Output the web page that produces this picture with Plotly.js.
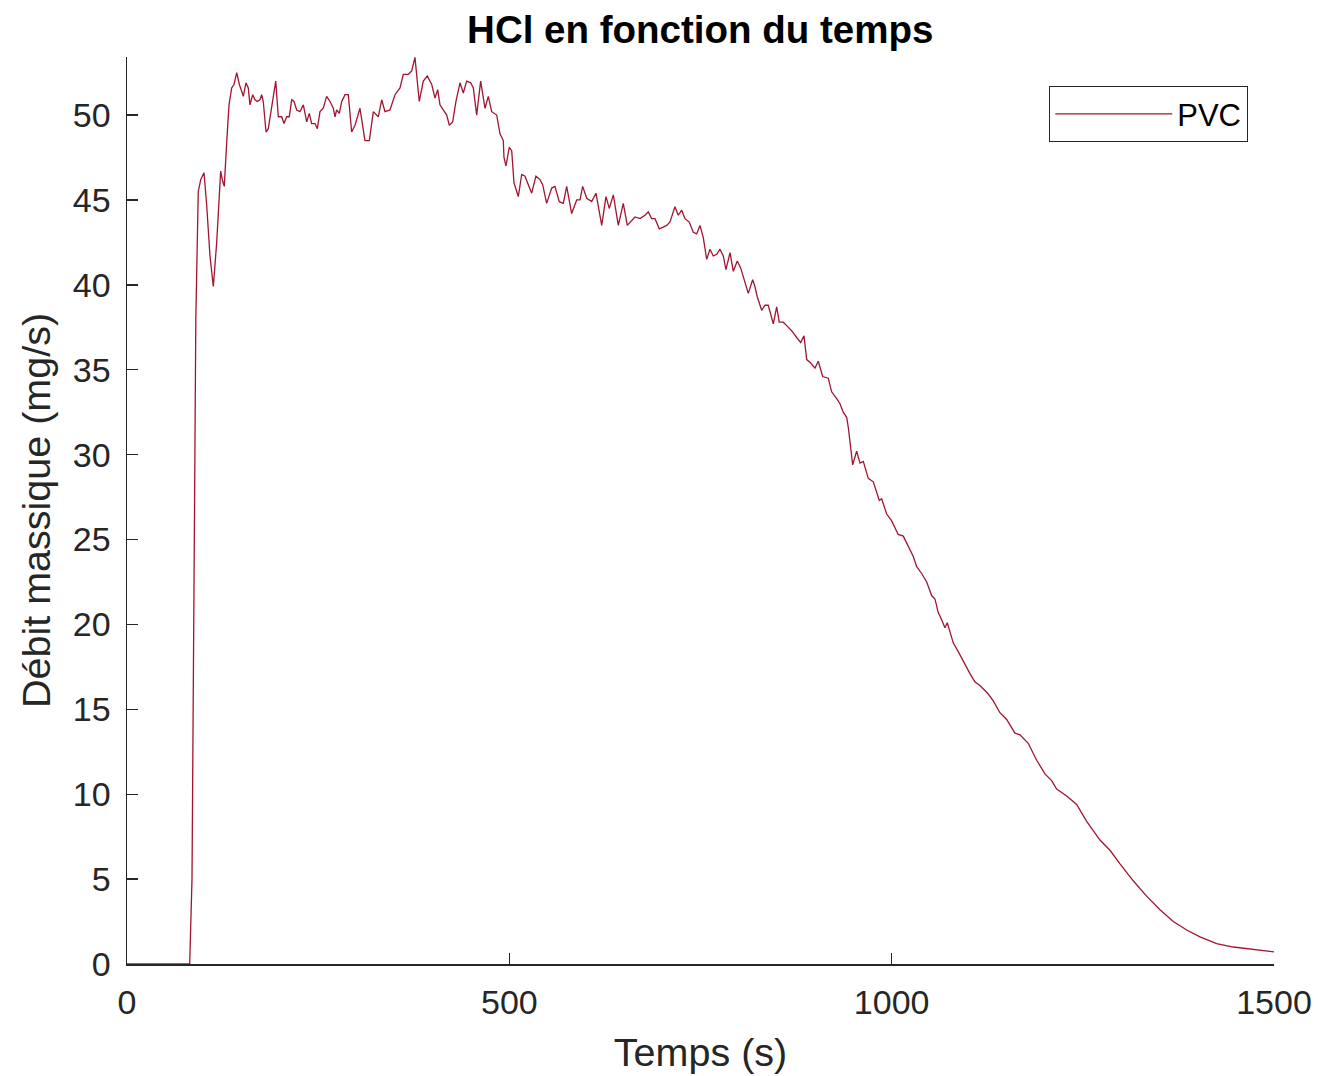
<!DOCTYPE html>
<html>
<head>
<meta charset="utf-8">
<script src="https://cdn.plot.ly/plotly-3.0.1.min.js"></script>
<style>html,body{margin:0;padding:0;background:#fff;}#chart{width:1319px;height:1076px;}</style>
</head>
<body>
<div id="chart"></div>
<script>
const seriesName = "PVC";
const temps = [0,82,85,90,93.2,96.4,100.7,104.2,108.5,112.9,117.3,122.5,125.1,127.2,130.4,133.4,136.9,139.9,143.5,146.9,150.0,152.1,155.6,158.6,160.8,164.4,167.4,170.4,173.9,176.1,178.2,181.8,184.8,189.2,194.5,197.9,202.3,205.3,208.8,212.2,215.4,218.4,221.9,226.2,230.6,235.0,238.4,241.5,245.9,248.9,252.4,256.7,261.1,265.5,269.8,272.0,274.2,277.6,280.8,285.1,289.4,293.8,298.2,304.7,311.2,316.9,322.1,328.6,333.1,337.4,343.9,350.5,357.0,361.3,367.9,372.3,376.6,382.2,387.5,392.7,398.5,402.8,406.3,409.3,414.5,418.1,421.5,425.9,430.2,435.5,439.8,444.2,449.5,452.9,457.3,462.5,468.2,472.5,476.9,483.5,487.8,492.1,493.0,495.6,499.9,503.1,506.1,508.7,511.7,516.2,520.5,524.8,529.2,534.8,540.1,543.6,548.8,555.4,559.7,565.3,570.6,575.0,581.5,588.1,592.4,595.9,601.2,607.7,613.3,620.8,626.4,630.7,636.0,642.5,649.0,654.3,660.0,664.3,670.9,677.4,681.7,686.1,690.5,696.1,701.3,705.8,710.1,716.6,720.9,725.4,729.7,735.3,740.6,745.0,749.3,753.6,758.1,762.4,766.7,771.2,775.5,779.8,783.3,788.6,792.9,798.1,802.5,808.2,812.5,818.2,821.2,824.2,830.0,834.3,838.6,845.2,849.6,853.0,858.2,862.7,869.2,875.8,881.0,885.3,888.9,894.1,899.7,904.0,909.8,917.1,921.5,928.1,932.4,936.7,941.2,943.3,945.5,949.0,954.2,958.6,962.9,969.4,976.0,983.8,986.9,993.5,1000.0,1008.6,1015.2,1021.7,1028.3,1032.7,1039.2,1045.8,1052.3,1056.6,1060.9,1063.2,1069.7,1072.7,1076.2,1080.6,1087.1,1095.9,1102.4,1109.0,1115.5,1126.3,1132.9,1141.6,1150.4,1161.2,1167.8,1178.6,1189.6,1200.5,1209.2,1215.8,1228.9,1241.9,1255.0,1272.4,1285.5,1298.6,1315.9,1333.4,1350.9,1368.3,1385.8,1403.2,1425.0,1446.7,1472.9,1500];
const debit = [0,0,5,38,45.5,46.2,46.6,44.7,41.7,39.9,42.5,46.7,46.1,45.8,48.4,50.6,51.6,51.8,52.5,51.8,51.4,51.1,51.9,51.6,50.6,51.2,50.9,50.8,50.9,51.2,50.8,49.0,49.2,50.6,52.0,49.9,49.9,49.5,49.9,49.9,50.9,50.8,50.3,50.2,50.6,49.6,50.1,49.5,49.5,49.2,50.2,50.4,51.1,50.8,50.4,49.9,50.3,50.1,50.8,51.2,51.2,49.0,49.4,50.4,48.5,48.5,50.2,49.9,50.9,50.2,50.3,51.2,51.6,52.4,52.4,52.6,53.4,50.8,52.0,52.3,51.8,51.0,51.5,50.6,50.2,50.0,49.4,49.6,50.8,51.9,51.3,52.0,51.9,51.6,50.0,52.0,50.4,51.1,50.2,50.0,48.9,48.5,47.5,47.0,48.1,47.9,46.0,45.6,45.2,46.5,46.4,45.9,45.4,46.4,46.2,45.9,44.8,45.7,45.8,44.9,44.8,45.8,44.2,45.0,45.0,45.8,45.1,44.9,45.4,43.5,45.2,44.5,45.3,43.5,44.8,43.5,43.8,44.0,43.9,44.1,44.3,43.9,43.9,43.3,43.4,43.5,43.7,44.6,44.1,44.4,43.9,43.7,43.1,43.0,43.5,42.8,41.5,42.1,41.7,41.8,42.1,41.7,40.9,41.9,40.8,41.4,41.0,40.2,39.5,40.3,39.9,39.3,38.5,38.8,38.8,37.7,38.7,37.8,37.8,37.6,37.3,36.9,36.6,37.0,35.6,35.4,35.1,35.5,34.6,34.5,33.7,33.3,33.0,32.5,32.2,31.6,30.8,29.4,30.2,29.5,29.6,28.6,28.4,27.3,27.4,26.5,26.1,25.3,25.2,24.6,24.0,23.4,23.0,22.5,21.7,21.5,20.7,20.5,19.8,20.1,19.5,18.9,18.4,17.6,17.1,16.6,16.4,15.9,15.5,14.8,14.4,13.6,13.5,13.0,12.0,11.2,10.8,10.3,9.9,9.4,8.4,7.3,6.7,5.9,4.9,4.0,3.2,2.5,2.0,1.6,1.2,1.0,0.87,0.72];
const xTicks = [0,500,1000,1500];
const yTicks = [0,5,10,15,20,25,30,35,40,45,50];

const fontFam = '"Liberation Sans", Arial, Helvetica, sans-serif';
const axisCol = '#262626';

const trace = {
  x: temps, y: debit, type: 'scatter', mode: 'lines', name: seriesName,
  line: {color: '#A2142F', width: 1.3}
};

const layout = {
  width: 1319, height: 1076,
  paper_bgcolor: '#ffffff', plot_bgcolor: '#ffffff',
  margin: {l: 127, r: 45, t: 57, b: 112, pad: 0},
  title: {text: '<b>HCl en fonction du temps</b>', x: 0.5309, xanchor: 'center', y: 0.973, yanchor: 'middle',
          font: {family: fontFam, size: 38.5, color: '#000000'}},
  xaxis: {
    range: [0, 1500], tickvals: xTicks, ticktext: xTicks.map(String),
    ticks: 'inside', ticklen: 11, tickwidth: 1.3, tickcolor: axisCol,
    showline: true, linecolor: axisCol, linewidth: 1.5, mirror: false,
    showgrid: false, zeroline: false,
    tickfont: {family: fontFam, size: 34, color: axisCol},
    ticklabelstandoff: 8,
    title: {text: 'Temps (s)', font: {family: fontFam, size: 39.5, color: axisCol}, standoff: 18}
  },
  yaxis: {
    range: [0, 53.42], tickvals: yTicks, ticktext: yTicks.map(String),
    ticks: 'inside', ticklen: 11, tickwidth: 1.3, tickcolor: axisCol,
    showline: true, linecolor: axisCol, linewidth: 1.5, mirror: false,
    showgrid: false, zeroline: false,
    tickfont: {family: fontFam, size: 34, color: axisCol},
    ticklabelstandoff: 8,
    title: {text: 'Débit massique (mg/s)', font: {family: fontFam, size: 39.5, color: axisCol}, standoff: 10}
  },
  showlegend: true,
  legend: {
    x: 0.9773, xanchor: 'right', y: 0.968, yanchor: 'top',
    bgcolor: '#ffffff', bordercolor: axisCol, borderwidth: 1.3,
    itemwidth: 117,
    font: {family: fontFam, size: 31, color: '#000000'}
  }
};

Plotly.newPlot('chart', [trace], layout, {displayModeBar: false, staticPlot: true});
</script>
</body>
</html>
